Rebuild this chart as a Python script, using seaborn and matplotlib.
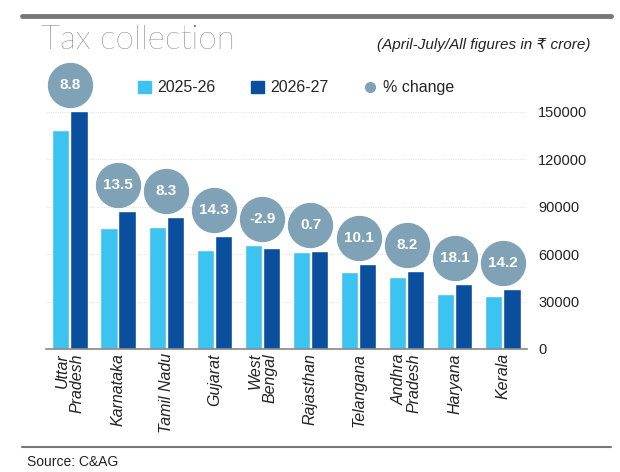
import seaborn as sns
import matplotlib.pyplot as plt
import pandas as pd
from matplotlib import font_manager
from matplotlib.lines import Line2D
from matplotlib.patches import Patch

states = ["Uttar\nPradesh", "Karnataka", "Tamil Nadu", "Gujarat", "West\nBengal",
          "Rajasthan", "Telangana", "Andhra\nPradesh", "Haryana", "Kerala"]
fy2526 = [138500, 76700, 77300, 62500, 65500, 61500, 48800, 45800, 35000, 33300]
fy2627 = [150700, 87100, 83700, 71500, 63600, 61900, 53700, 49500, 41300, 38000]
pct = [8.8, 13.5, 8.3, 14.3, -2.9, 0.7, 10.1, 8.2, 18.1, 14.2]
years = ["2025-26", "2026-27"]
yticks = [0, 30000, 60000, 90000, 120000, 150000]

light_blue = "#3cc3f0"
dark_blue = "#0a4f9e"
circle_col = "#7fa2b6"

names = {f.name for f in font_manager.fontManager.ttflist}
narrow = "Liberation Sans Narrow" if "Liberation Sans Narrow" in names else "Liberation Sans"
fam = [narrow, "DejaVu Sans"]

sns.set_style("white")
plt.rcParams['font.family'] = fam

df = pd.DataFrame({
    "state": states * 2,
    "value": fy2526 + fy2627,
    "year": [years[0]] * len(states) + [years[1]] * len(states),
})

fig = plt.figure(figsize=(6.2, 4.72), dpi=100)
ax = fig.add_axes([0.074, 0.2606, 0.776, 0.5025])

sns.barplot(data=df, x="state", y="value", hue="year", palette=[light_blue, dark_blue],
            width=0.75, gap=0.05, ax=ax, legend=False, saturation=1)

# % change bubbles
tops = [max(a, b) + 16500 for a, b in zip(fy2526, fy2627)]
ax.scatter(range(len(states)), tops, s=1000, color=circle_col, zorder=5, clip_on=False)
for i, (t, p) in enumerate(zip(tops, pct)):
    ax.text(i, t, f"{p}", color="white", fontsize=11, fontweight="bold",
            ha="center", va="center", zorder=6)

ax.set_ylim(0, 150000)
ax.set_xlim(-0.5, 9.5)
ax.set_yticks(yticks)
ax.yaxis.tick_right()
ax.tick_params(axis="y", length=0, pad=8, labelsize=10.5, colors="#222222")
for lab in ax.get_yticklabels():
    lab.set_horizontalalignment("left")
ax.tick_params(axis="x", length=0, pad=3)
ax.set_xticks(range(len(states)))
ax.set_xticklabels(states, rotation=90, fontsize=11.5, fontstyle="italic",
                   va="top", ha="center", multialignment="right", color="#222222",
                   linespacing=1.0)
ax.set_xlabel("")
ax.set_ylabel("")
ax.grid(axis="y", color="#e4e4e4", linewidth=0.8, linestyle=(0, (1, 1)))
ax.set_axisbelow(True)
for s in ["top", "left", "right"]:
    ax.spines[s].set_visible(False)
ax.spines["bottom"].set_color("#888888")
ax.spines["bottom"].set_linewidth(1.2)

handles = [Patch(color=light_blue), Patch(color=dark_blue),
           Line2D([], [], marker="o", linestyle="", color=circle_col, markersize=7)]
fig.legend(handles, ["2025-26", "2026-27", "% change"], loc="center left",
           bbox_to_anchor=(0.2, 0.8136), ncol=3, frameon=False, fontsize=11.5,
           handlelength=0.8, handleheight=0.8, handletextpad=0.4, columnspacing=2.2)

# header / footer
fig.add_artist(Line2D([0.035, 0.985], [0.966, 0.966], color="#777777", linewidth=3.5))
fig.add_artist(Line2D([0.035, 0.985], [0.053, 0.053], color="#777777", linewidth=1.5))
fig.text(0.066, 0.915, "Tax collection", fontsize=24, fontweight="light",
         family=["Lato", "DejaVu Sans"], color="#484848", va="center")
fig.text(0.952, 0.905, "(April-July/All figures in \u20b9 crore)", fontsize=11,
         fontstyle="italic", ha="right", va="center", color="#222222", family=fam)
fig.text(0.043, 0.022, "Source: C&AG", fontsize=10, va="center", color="#222222")

fig.savefig("out.png", dpi=100)
